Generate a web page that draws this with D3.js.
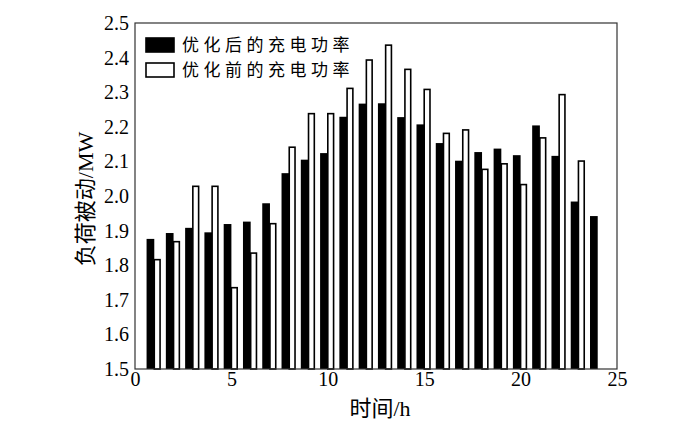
<!DOCTYPE html>
<html>
<head>
<meta charset="utf-8">
<script src="https://cdn.jsdelivr.net/npm/d3@7"></script>
<style>
  body { margin: 0; background: #fff; }
</style>
</head>
<body>
<div id="chart"></div>
<script>
// hours and the two charging series (MW)
var hours = [1,2,3,4,5,6,7,8,9,10,11,12,13,14,15,16,17,18,19,20,21,22,23,24];
var after = [1.876,1.893,1.908,1.895,1.919,1.926,1.979,2.066,2.105,2.124,2.229,2.267,
             2.268,2.228,2.207,2.153,2.102,2.127,2.137,2.118,2.204,2.116,1.984,1.942];
var before = [1.816,1.868,2.028,2.028,1.735,1.835,1.920,2.141,2.238,2.238,2.311,2.393,
              2.436,2.366,2.308,2.181,2.191,2.077,2.093,2.033,2.168,2.293,2.101,null];
var xTicks = [0,5,10,15,20,25];
var yTicks = [1.5,1.6,1.7,1.8,1.9,2.0,2.1,2.2,2.3,2.4,2.5];
var legendLabels = ["优化后的充电功率", "优化前的充电功率"];

var svgWidth = 700, svgHeight = 421;
var margin = {top: 23, right: 83, bottom: 52, left: 135};
var serif = '"Liberation Serif", "Noto Sans CJK SC", serif';

var svg = d3.select('#chart').append('svg')
  .attr('width', svgWidth)
  .attr('height', svgHeight);
var width = svgWidth - margin.left - margin.right,
    height = svgHeight - margin.top - margin.bottom;
var g = svg.append('g')
  .attr('transform', 'translate(' + margin.left + ',' + margin.top + ')');

var x = d3.scaleLinear().domain([0, 25]).range([0, width]);
var y = d3.scaleLinear().domain([1.5, 2.5]).range([height, 0]);

var blackW = 0.4, whiteW = 0.3;

// black bars (after optimisation), left of each hour
g.selectAll('.bar-after')
  .data(hours)
  .enter().append('rect')
  .attr('class', 'bar-after')
  .attr('x', function(d) { return x(d - blackW); })
  .attr('y', function(d, i) { return y(after[i]); })
  .attr('width', x(blackW) - x(0))
  .attr('height', function(d, i) { return height - y(after[i]); })
  .attr('fill', '#000');

// white bars (before optimisation), right of each hour
g.selectAll('.bar-before')
  .data(hours.filter(function(d, i) { return before[i] != null; }))
  .enter().append('rect')
  .attr('class', 'bar-before')
  .attr('x', function(d) { return x(d); })
  .attr('y', function(d) { return y(before[d - 1]); })
  .attr('width', x(whiteW) - x(0))
  .attr('height', function(d) { return height - y(before[d - 1]); })
  .attr('fill', '#fff')
  .attr('stroke', '#000')
  .attr('stroke-width', 1.6);

// axes, no tick marks
var xAxis = g.append('g')
  .attr('transform', 'translate(0,' + height + ')')
  .call(d3.axisBottom(x).tickValues(xTicks).tickSize(0).tickPadding(3).tickFormat(d3.format('d')));
xAxis.selectAll('text')
  .attr('font-family', serif).attr('font-size', 20).attr('fill', '#000');
xAxis.select('.domain').remove();

var yAxis = g.append('g')
  .call(d3.axisLeft(y).tickValues(yTicks).tickSize(0).tickPadding(6).tickFormat(d3.format('.1f')));
yAxis.selectAll('text')
  .attr('font-family', serif).attr('font-size', 20).attr('fill', '#000');
yAxis.select('.domain').remove();

// frame
g.append('rect')
  .attr('x', 0).attr('y', 0)
  .attr('width', width).attr('height', height)
  .attr('fill', 'none')
  .attr('stroke', '#333')
  .attr('stroke-width', 1.2);

// axis titles
svg.append('text')
  .attr('x', 380)
  .attr('y', 416)
  .attr('text-anchor', 'middle')
  .attr('font-family', serif)
  .attr('font-size', 22)
  .text('时间/h');

svg.append('text')
  .attr('transform', 'translate(93,' + 199 + ') rotate(-90)')
  .attr('text-anchor', 'middle')
  .attr('font-family', serif)
  .attr('font-size', 22)
  .text('负荷被动/MW');

// legend
var legend = g.append('g')
  .attr('transform', 'translate(11,15)');
legendLabels.forEach(function(label, i) {
  var row = legend.append('g').attr('transform', 'translate(0,' + (i * 25) + ')');
  row.append('rect')
    .attr('x', 0).attr('y', 0)
    .attr('width', 28).attr('height', 14)
    .attr('fill', i === 0 ? '#000' : '#fff')
    .attr('stroke', '#000')
    .attr('stroke-width', 1.6);
  row.append('text')
    .attr('x', 36).attr('y', 7)
    .attr('dy', '0.36em')
    .attr('font-family', '"Noto Sans CJK SC", sans-serif')
    .attr('font-size', 17)
    .attr('letter-spacing', 4.5)
    .text(label);
});
</script>
</body>
</html>
